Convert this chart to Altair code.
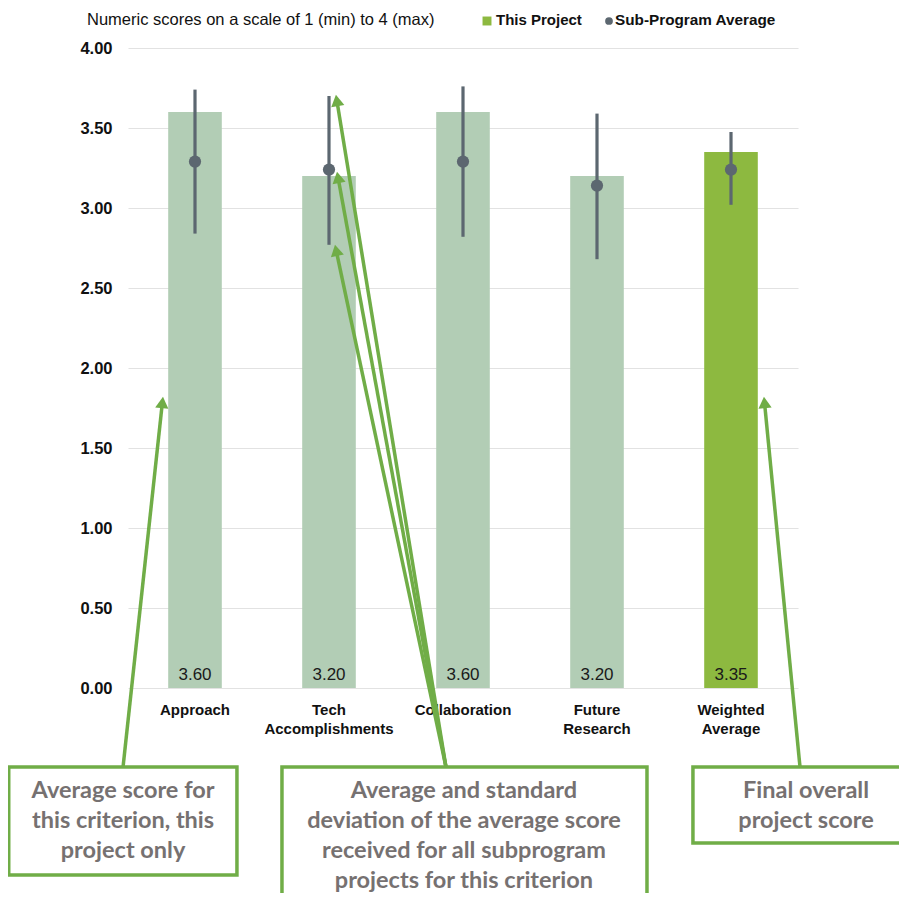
import math
import altair as alt
import pandas as pd

# ---------------- data ----------------
criteria = ["Approach", "Tech Accomplishments", "Collaboration", "Future Research", "Weighted Average"]
project_scores = [3.60, 3.20, 3.60, 3.20, 3.35]
subprogram_avg = [3.29, 3.24, 3.29, 3.14, 3.24]
subprogram_low = [2.84, 2.77, 2.82, 2.68, 3.02]
subprogram_high = [3.74, 3.70, 3.76, 3.59, 3.475]
bar_kind = ["criterion", "criterion", "criterion", "criterion", "overall"]

title_text = "Numeric scores on a scale of 1 (min) to 4 (max)"
legend_labels = ["This Project", "Sub-Program Average"]

# annotation boxes (x in category units 0..5, y in score units)
box_x1 = [-0.89, 1.149, 4.216]
box_x2 = [0.813, 3.873, 6.5]
box_y1 = [-0.494, -0.494, -0.494]
box_y2 = [-1.169, -1.45, -0.969]
box_text_x = [-0.037, 2.507, 5.06]
box_lines = [
    ["Average score for", "this criterion, this", "project only"],
    ["Average and standard", "deviation of the average score", "received for all subprogram", "projects for this criterion"],
    ["Final overall", "project score"],
]
# arrows: start (box top) -> tip
arrow_x1 = [-0.037, 2.373, 2.373, 2.373, 5.015]
arrow_y1 = [-0.494, -0.494, -0.494, -0.494, -0.494]
arrow_x2 = [0.261, 1.552, 1.560, 1.545, 4.746]
arrow_y2 = [1.819, 3.706, 3.225, 2.769, 1.819]

# ---------------- styles ----------------
LIGHT = "#b2cdb5"
GREEN = "#8db940"
ARROW = "#70ad47"
GREY = "#5c6770"
TEXT_GREY = "#767171"
W, H = 670, 640
PX_X, PX_Y = W / 5.0, H / 4.0

df = pd.DataFrame({
    "Criterion": criteria,
    "Score": project_scores,
    "Avg": subprogram_avg,
    "Low": subprogram_low,
    "High": subprogram_high,
    "Kind": bar_kind,
})

xband = alt.X("Criterion:N", sort=criteria, title=None,
              scale=alt.Scale(paddingInner=0.6, paddingOuter=0.3),
              axis=alt.Axis(labelExpr="split(datum.label, ' ')", labelAngle=0,
                            labelFontSize=15, labelFont="Liberation Sans", labelFontWeight="bold",
                            labelColor="#111111", labelLineHeight=19,
                            labelPadding=14, ticks=False, domain=False,
                            labelBaseline="top", grid=False))
yscale = alt.Scale(domain=[0, 4], nice=False, zero=False)
yenc = alt.Y("Score:Q", scale=yscale, title=None,
             axis=alt.Axis(values=[0, 0.5, 1, 1.5, 2, 2.5, 3, 3.5, 4], format=".2f",
                           labelFontSize=16.5, labelFontWeight="bold",
                           labelFont="Liberation Sans", labelColor="#111111",
                           labelPadding=16, ticks=False, domain=False,
                           gridColor="#e2e2e2", gridWidth=1.2))

base = alt.Chart(df)
bars = base.mark_bar().encode(
    x=xband, y=yenc,
    color=alt.Color("Kind:N", scale=alt.Scale(domain=["criterion", "overall"], range=[LIGHT, GREEN]), legend=None),
)
err = base.mark_rule(color=GREY, strokeWidth=3.2).encode(
    x=alt.X("Criterion:N", sort=criteria),
    y=alt.Y("Low:Q", scale=yscale), y2="High:Q",
)
dots = base.mark_circle(color=GREY, size=150, opacity=1).encode(
    x=alt.X("Criterion:N", sort=criteria),
    y=alt.Y("Avg:Q", scale=yscale),
)
vals = base.transform_calculate(zero="0").mark_text(
    font="Liberation Sans", fontSize=17, color="#1a1a1a", baseline="alphabetic", dy=-8
).encode(
    x=alt.X("Criterion:N", sort=criteria),
    y=alt.Y("zero:Q", scale=yscale),
    text=alt.Text("Score:Q", format=".2f"),
)
main = alt.layer(bars, err, dots, vals)

# ---------------- annotations ----------------
xq = alt.Scale(domain=[0, 5], nice=False, zero=False)

boxes_df = pd.DataFrame({"x1": box_x1, "x2": box_x2, "y1": box_y1, "y2": box_y2})
boxes = alt.Chart(boxes_df).mark_rect(fill="white", stroke=ARROW, strokeWidth=3.5).encode(
    x=alt.X("x1:Q", scale=xq, axis=None), x2="x2:Q",
    y=alt.Y("y1:Q", scale=yscale, axis=None), y2="y2:Q",
)

rows = []
for bi, lines in enumerate(box_lines):
    for li, t in enumerate(lines):
        rows.append({"x": box_text_x[bi], "y": -0.644 - li * 30.0 / PX_Y, "t": t})
texts = alt.Chart(pd.DataFrame(rows)).mark_text(
    font="Lato", fontWeight="bold", fontSize=23.5, color=TEXT_GREY, baseline="middle", align="center"
).encode(
    x=alt.X("x:Q", scale=xq, axis=None),
    y=alt.Y("y:Q", scale=yscale, axis=None),
    text="t:N",
)

arows = []
for xs, ys, xt, yt in zip(arrow_x1, arrow_y1, arrow_x2, arrow_y2):
    dxs = (xt - xs) * PX_X
    dys = -(yt - ys) * PX_Y
    L = math.hypot(dxs, dys)
    ux, uy = dxs / L, dys / L
    ang = math.degrees(math.atan2(dxs, -dys)) % 360
    lx = xt - 9 * ux / PX_X
    ly = yt + 9 * uy / PX_Y
    hx = xt - 5.5 * ux / PX_X
    hy = yt + 5.5 * uy / PX_Y
    arows.append({"xs": xs, "ys": ys, "lx": lx, "ly": ly, "hx": hx, "hy": hy, "ang": ang})
adf = pd.DataFrame(arows)
alines = alt.Chart(adf).mark_rule(color=ARROW, strokeWidth=3.5).encode(
    x=alt.X("xs:Q", scale=xq, axis=None), x2="lx:Q",
    y=alt.Y("ys:Q", scale=yscale, axis=None), y2="ly:Q",
)
aheads = alt.Chart(adf).mark_point(shape="triangle-up", filled=True, size=175, color=ARROW, opacity=1).encode(
    x=alt.X("hx:Q", scale=xq, axis=None),
    y=alt.Y("hy:Q", scale=yscale, axis=None),
    angle=alt.Angle("ang:Q", scale=None),
)

one = pd.DataFrame({"a": [0]})
title_mark = alt.Chart(one).mark_text(
    text=title_text, font="Liberation Sans", fontSize=16.5, color="#111111", align="left", baseline="middle"
).encode(x=alt.value(-41), y=alt.value(-28))
leg_sq = alt.Chart(one).mark_square(color=GREEN, size=80, opacity=1).encode(x=alt.value(359), y=alt.value(-27))
leg_t1 = alt.Chart(one).mark_text(
    text=legend_labels[0], font="Liberation Sans", fontSize=15, fontWeight="bold", color="#111111",
    align="left", baseline="middle"
).encode(x=alt.value(368), y=alt.value(-28))
leg_ci = alt.Chart(one).mark_circle(color=GREY, size=60, opacity=1).encode(x=alt.value(481), y=alt.value(-27))
leg_t2 = alt.Chart(one).mark_text(
    text=legend_labels[1], font="Liberation Sans", fontSize=15.3, fontWeight="bold", color="#111111",
    align="left", baseline="middle"
).encode(x=alt.value(487), y=alt.value(-28))

annot = alt.layer(alines, aheads, boxes, texts, title_mark, leg_sq, leg_t1, leg_ci, leg_t2)

chart = alt.layer(main, annot).resolve_scale(x="independent").resolve_axis(y="independent").properties(
    width=W, height=H,
    autosize=alt.AutoSizeParams(type="none"),
    padding={"left": 120, "top": 40, "right": 101, "bottom": 205},
).configure_view(stroke=None)

chart.save("out.html", embed_options={"renderer": "svg", "actions": False})
